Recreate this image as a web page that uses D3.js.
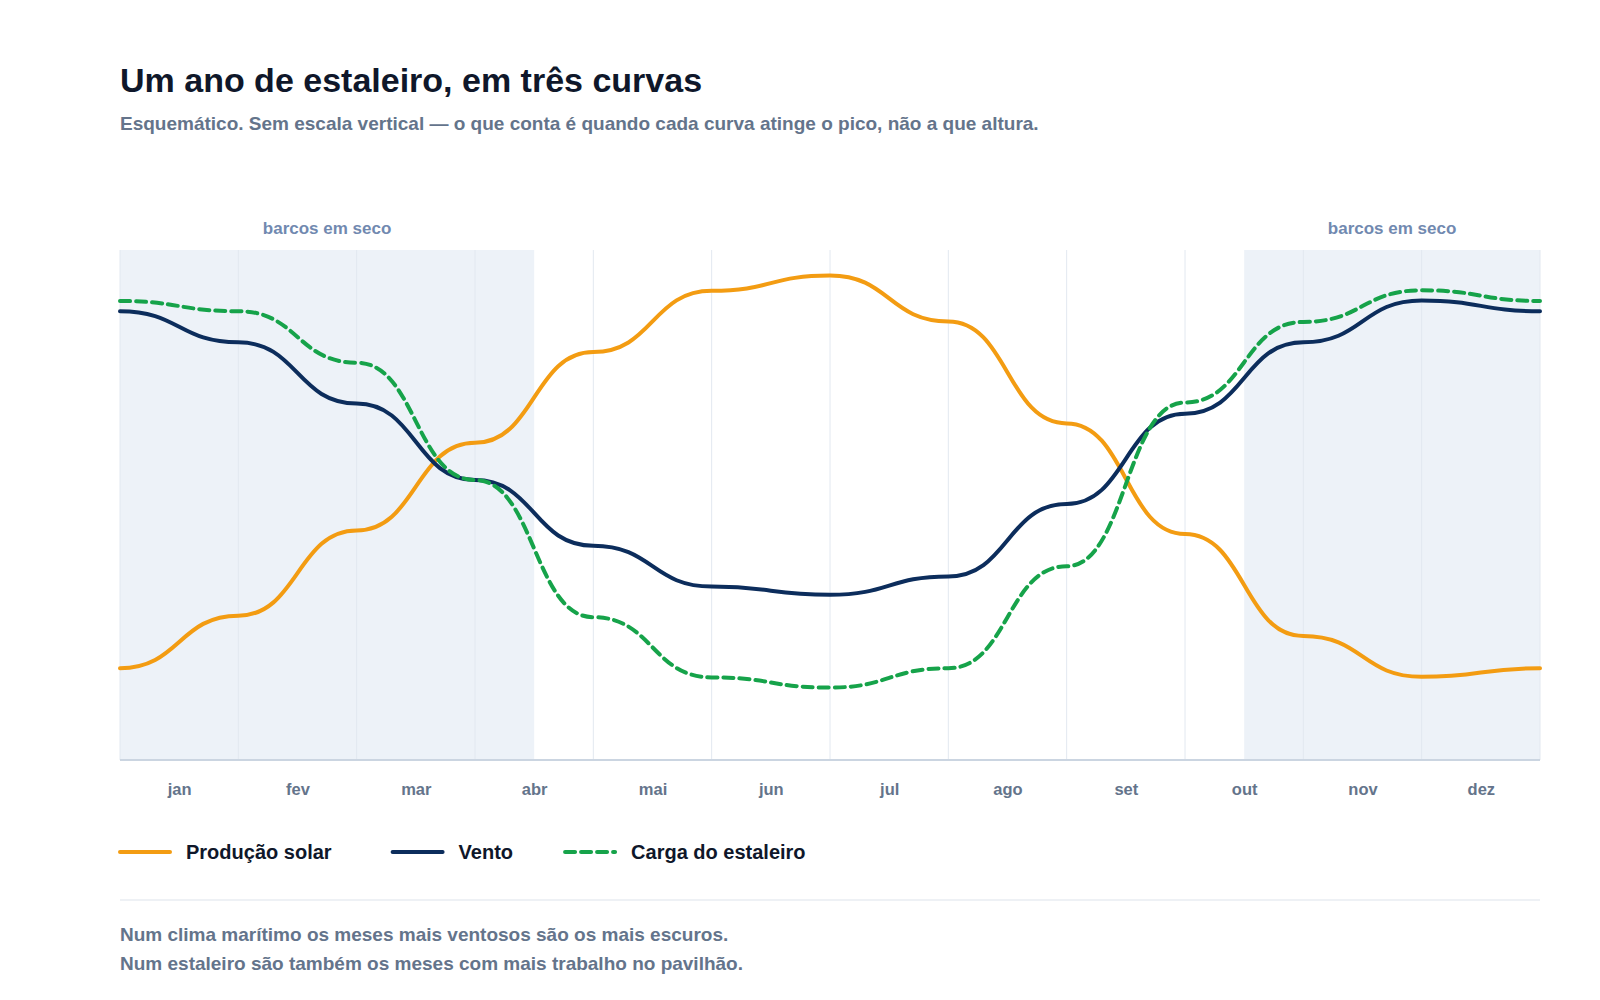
<!DOCTYPE html>
<html>
<head>
<meta charset="utf-8">
<script src="https://cdn.jsdelivr.net/npm/d3@7"></script>
<style>
  body { margin: 0; background: #fff; }
  svg text { font-family: "Liberation Sans", Arial, sans-serif; font-weight: bold; }
</style>
</head>
<body>
<svg id="chart" width="1600" height="1000"></svg>
<script>
// months and the three schematic curves (no vertical units, 0-100)
const months = ['jan', 'fev', 'mar', 'abr', 'mai', 'jun', 'jul', 'ago', 'set', 'out', 'nov', 'dez'];
const solar = [18, 28.3, 45, 62.2, 80, 92, 95, 86, 66, 44.3, 24.3, 16.3];
const wind  = [88, 81.9, 69.9, 54.9, 42, 34, 32.4, 36, 50.2, 67.9, 81.9, 90.1];
const load  = [90, 88, 77.9, 54.9, 28, 16.2, 14.2, 18, 38, 70.1, 85.9, 92.1];

// "barcos em seco" spans in month units
const dryDock = [[0, 3.5], [9.5, 12]];

const series = [
  { name: 'Produção solar', values: solar, color: '#f39c12', dash: null },
  { name: 'Vento', values: wind, color: '#0c2d5c', dash: null },
  { name: 'Carga do estaleiro', values: load, color: '#16a34a', dash: '10 6' }
];

const svg = d3.select('#chart');
const plotL = 120, plotR = 1540, plotT = 250, plotB = 760;

const x = d3.scaleLinear().domain([0, 12]).range([plotL, plotR]);
const y = d3.scaleLinear().domain([0, 100]).range([plotB, plotT]);

// title
svg.append('text').attr('x', 120).attr('y', 92)
  .attr('font-size', 34).attr('fill', '#0f172a')
  .text('Um ano de estaleiro, em três curvas');
svg.append('text').attr('x', 120).attr('y', 130)
  .attr('font-size', 19).attr('fill', '#64748b')
  .text('Esquemático. Sem escala vertical — o que conta é quando cada curva atinge o pico, não a que altura.');

// shaded bands
svg.selectAll('.band').data(dryDock).enter().append('rect')
  .attr('class', 'band')
  .attr('x', d => x(d[0])).attr('y', plotT)
  .attr('width', d => x(d[1]) - x(d[0])).attr('height', plotB - plotT)
  .attr('fill', '#edf2f8');
svg.selectAll('.band-label').data(dryDock).enter().append('text')
  .attr('x', d => x((d[0] + d[1]) / 2)).attr('y', 234)
  .attr('text-anchor', 'middle').attr('font-size', 17).attr('fill', '#7189b0')
  .text('barcos em seco');

// vertical month gridlines
svg.selectAll('.grid').data(d3.range(0, 13)).enter().append('line')
  .attr('x1', d => x(d)).attr('x2', d => x(d))
  .attr('y1', plotT).attr('y2', plotB)
  .attr('stroke', '#e2e8f0').attr('stroke-width', 1);

// month axis
const axis = svg.append('g').attr('transform', 'translate(0,' + plotB + ')')
  .call(d3.axisBottom(x)
    .tickValues(d3.range(12).map(i => i + 0.5))
    .tickFormat((d, i) => months[i])
    .tickSize(0).tickPadding(23));
axis.select('.domain').remove();
axis.selectAll('text').attr('font-size', 16.5).attr('fill', '#64748b')
  .attr('font-family', '"Liberation Sans", Arial, sans-serif');
svg.append('line').attr('x1', plotL).attr('x2', plotR).attr('y1', plotB).attr('y2', plotB)
  .attr('stroke', '#cbd5e1').attr('stroke-width', 2);

// curves
const line = d3.line().x(d => x(d[0])).y(d => y(d[1])).curve(d3.curveBumpX);
series.forEach(s => {
  const pts = s.values.map((v, i) => [i, v]);
  pts.push([12, s.values[0]]); // the year wraps back to january
  svg.append('path').datum(pts)
    .attr('d', line)
    .attr('fill', 'none')
    .attr('stroke', s.color)
    .attr('stroke-width', 4)
    .attr('stroke-linecap', 'round')
    .attr('stroke-dasharray', s.dash);
});

// legend
let lx = 120;
const gaps = [61, 52];
series.forEach((s, i) => {
  const g = svg.append('g');
  g.append('line').attr('x1', lx).attr('x2', lx + 50).attr('y1', 852).attr('y2', 852)
    .attr('stroke', s.color).attr('stroke-width', 4).attr('stroke-linecap', 'round')
    .attr('stroke-dasharray', s.dash);
  const t = g.append('text').attr('x', lx + 66).attr('y', 859)
    .attr('font-size', 20).attr('fill', '#0f172a').text(s.name);
  lx += 66 + t.node().getComputedTextLength() + (gaps[i] || 0);
});

// footer
svg.append('line').attr('x1', 120).attr('x2', 1540).attr('y1', 900).attr('y2', 900)
  .attr('stroke', '#e9edf2').attr('stroke-width', 1.5);
const notes = ['Num clima marítimo os meses mais ventosos são os mais escuros.',
               'Num estaleiro são também os meses com mais trabalho no pavilhão.'];
svg.selectAll('.note').data(notes).enter().append('text')
  .attr('x', 120).attr('y', (d, i) => 941 + i * 29)
  .attr('font-size', 19).attr('fill', '#64748b')
  .text(d => d);
</script>
</body>
</html>
